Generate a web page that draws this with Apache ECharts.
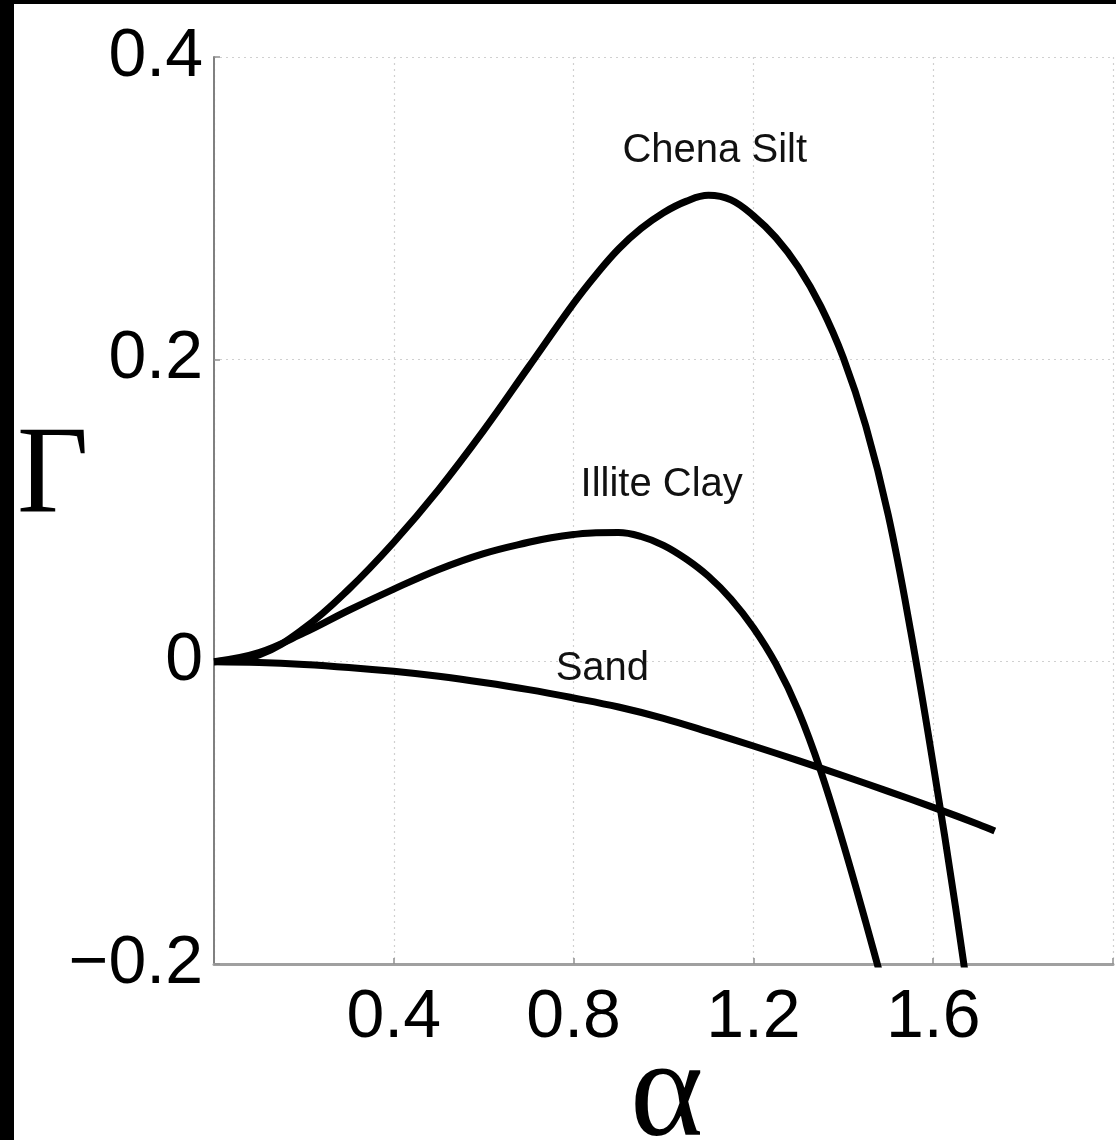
<!DOCTYPE html>
<html>
<head>
<meta charset="utf-8">
<script src="https://cdn.jsdelivr.net/npm/echarts@6/dist/echarts.min.js"></script>
<style>
  html, body { margin: 0; padding: 0; background: #000; width: 1116px; height: 1140px; overflow: hidden; }
  #chart { position: absolute; left: 14px; top: 4px; width: 1102px; height: 1136px; background: #fff; }
</style>
</head>
<body>
<div id="chart"></div>
<script>
// ---- data ----
const xTicks = [0.4, 0.8, 1.2, 1.6];
const yTicks = [-0.2, 0, 0.2, 0.4];

const chenaAlpha = [0, 0.1, 0.2, 0.3, 0.4, 0.5, 0.6, 0.7, 0.8, 0.85, 0.9, 0.95, 1.0, 1.05, 1.1, 1.15, 1.2, 1.25, 1.3, 1.35, 1.4, 1.45, 1.5, 1.55, 1.6, 1.65, 1.7];
const chenaGamma = [0, 0.0045, 0.022, 0.048, 0.079, 0.114, 0.153, 0.195, 0.237, 0.256, 0.273, 0.2865, 0.297, 0.3045, 0.3085, 0.3055, 0.295, 0.2805, 0.261, 0.235, 0.201, 0.156, 0.097, 0.020, -0.068, -0.163, -0.267];

const illiteAlpha = [0, 0.1, 0.2, 0.3, 0.4, 0.5, 0.6, 0.7, 0.75, 0.8, 0.85, 0.9, 0.95, 1.0, 1.05, 1.1, 1.15, 1.2, 1.25, 1.3, 1.35, 1.4, 1.45, 1.5];
const illiteGamma = [0, 0.006, 0.019, 0.034, 0.048, 0.061, 0.0715, 0.0790, 0.0820, 0.0841, 0.0853, 0.0854, 0.0828, 0.0770, 0.0680, 0.0565, 0.0415, 0.0225, -0.0015, -0.0325, -0.0725, -0.1205, -0.1725, -0.2265];

const sandAlpha = [0, 0.1, 0.2, 0.3, 0.4, 0.5, 0.6, 0.7, 0.8, 0.9, 1.0, 1.1, 1.2, 1.3, 1.4, 1.5, 1.6, 1.7, 1.737];
const sandGamma = [0, -0.0005, -0.0018, -0.0038, -0.0064, -0.0097, -0.0138, -0.0185, -0.024, -0.030, -0.0375, -0.0465, -0.0558, -0.0655, -0.0755, -0.0858, -0.0964, -0.1075, -0.112];

const curveNames = ['Chena Silt', 'Illite Clay', 'Sand'];

function pairs(xs, ys) { return xs.map((x, i) => [x, ys[i]]); }

const chart = echarts.init(document.getElementById('chart'), null, { renderer: 'canvas' });

const tickFont = { fontFamily: '"Liberation Sans", Arial, Helvetica, sans-serif', fontSize: 68, color: '#000' };
const curveLabel = { fontFamily: '"Liberation Sans", Arial, Helvetica, sans-serif', fontSize: 40, color: '#111' };

function lineSeries(name, data, labelCoord) {
  return {
    name: name,
    type: 'line',
    data: data,
    smooth: 0.4,
    symbol: 'none',
    clip: true,
    lineStyle: { color: '#000', width: 7 },
    silent: true,
    z: 5,
    markPoint: {
      symbol: 'rect',
      symbolSize: 1,
      itemStyle: { color: 'rgba(0,0,0,0)' },
      label: Object.assign({ show: true, position: 'inside', formatter: name, align: 'center', verticalAlign: 'middle' }, curveLabel),
      data: [{ coord: labelCoord }]
    }
  };
}

const option = {
  animation: false,
  backgroundColor: '#fff',
  grid: { left: 200, top: 53, width: 905, height: 907, containLabel: false },
  xAxis: {
    type: 'value',
    min: 0, max: 2, interval: 0.4,
    axisLine: { show: true, onZero: false, lineStyle: { color: '#a0a0a0', width: 3 } },
    axisTick: { show: true, inside: true, length: 6, lineStyle: { color: '#909090', width: 1.5 } },
    axisLabel: Object.assign({
      margin: 20,
      showMinLabel: false,
      formatter: function (v) { return xTicks.some(t => Math.abs(t - v) < 1e-9) ? v.toFixed(1) : ''; }
    }, tickFont),
    splitLine: { show: true, lineStyle: { color: '#d0d0d0', width: 1.2, type: [2, 4] } }
  },
  yAxis: {
    type: 'value',
    min: -0.2, max: 0.4, interval: 0.2,
    axisLine: { show: true, onZero: false, lineStyle: { color: '#808080', width: 2 } },
    axisTick: { show: true, inside: true, length: 6, lineStyle: { color: '#909090', width: 1.5 } },
    axisLabel: Object.assign({
      margin: 11,
      formatter: function (v) {
        const t = yTicks.find(t => Math.abs(t - v) < 1e-9);
        if (t === undefined) return '';
        if (Math.abs(t) < 1e-9) return '0';
        return t.toFixed(1).replace('-', '\u2212');
      }
    }, tickFont),
    splitLine: { show: true, lineStyle: { color: '#d0d0d0', width: 1.2, type: [2, 4] } }
  },
  graphic: [
    { type: 'text', left: 3, top: 413, style: { text: 'Γ', fontFamily: '"Liberation Serif", "DejaVu Serif", serif', fontSize: 124, fill: '#000' } },
    { type: 'text', left: 616, top: 1024, style: { text: 'α', fontFamily: '"Liberation Serif", "DejaVu Serif", serif', fontSize: 140, fill: '#000' } }
  ],
  series: [
    lineSeries(curveNames[0], pairs(chenaAlpha, chenaGamma), [1.114, 0.338]),
    lineSeries(curveNames[1], pairs(illiteAlpha, illiteGamma), [0.996, 0.117]),
    lineSeries(curveNames[2], pairs(sandAlpha, sandGamma), [0.864, -0.0046])
  ]
};

chart.setOption(option);
</script>
</body>
</html>
